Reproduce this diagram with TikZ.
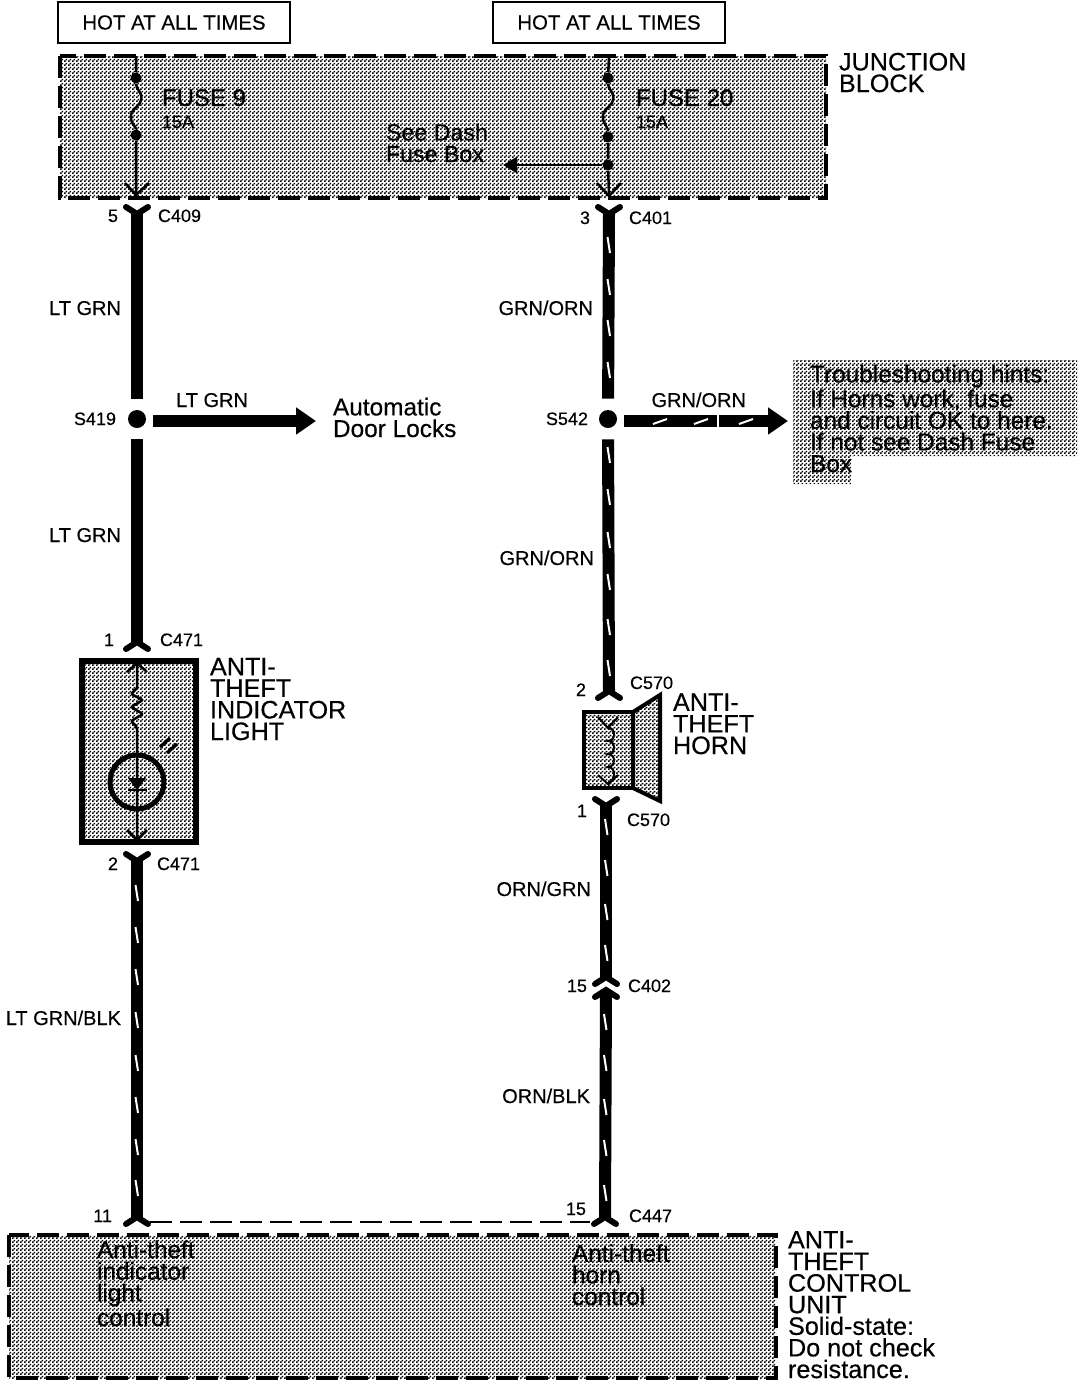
\documentclass[tikz,border=0pt]{standalone}
\usepackage{fontspec}
\setmainfont{Liberation Sans}[FakeBold=0.4]
\usetikzlibrary{arrows.meta, patterns}

% dither of the scanned shading
\pgfdeclarepatternformonly{stipple}{\pgfqpoint{0pt}{0pt}}{\pgfqpoint{2pt}{2pt}}{\pgfqpoint{2pt}{2pt}}{%
  \pgfpathrectangle{\pgfqpoint{0pt}{0pt}}{\pgfqpoint{1pt}{1pt}}%
  \pgfpathrectangle{\pgfqpoint{1pt}{1pt}}{\pgfqpoint{1pt}{1pt}}%
  \pgfusepath{fill}}

\tikzset{
  wirelabel/.style={anchor=base east,inner sep=0pt,outer sep=0pt,font=\fontsize{10}{10}\selectfont},
  pinlabel/.style={anchor=base west,inner sep=0pt,outer sep=0pt,font=\fontsize{9}{9}\selectfont},
  pinnum/.style={pinlabel,anchor=base east},
  biglabel/.style={anchor=base west,inner sep=0pt,outer sep=0pt,align=left,font=\fontsize{12.6}{10.8}\selectfont},
  fuselabel/.style={biglabel,font=\fontsize{12}{10.8}\selectfont},
  notelabel/.style={anchor=base west,inner sep=0pt,outer sep=0pt,align=left,font=\fontsize{12.2}{10.8}\selectfont},
  seelabel/.style={notelabel,font=\fontsize{11.6}{10.8}\selectfont},
  wire/.style={line width=6pt},
  thin wire/.style={line width=1.25pt},
  fork/.style={line width=3pt,line cap=round},
  tick/.style={draw=white,line width=1pt},
  splice/.style={circle,fill=black,inner sep=0pt,minimum size=9pt},
  tap/.style={circle,fill=black,inner sep=0pt,minimum size=5.5pt},
  shade box/.style={pattern=stipple},
  dash box/.style={shade box,line width=2pt,dash pattern=on 11.2pt off 3.8pt},
  hot box/.style={draw,line width=1.3pt,inner sep=0pt,minimum width=116pt,minimum height=20.5pt,font=\fontsize{10.2}{10}\selectfont},
}

\begin{document}
\begin{tikzpicture}[x=0.5pt,y=-0.5pt]
\useasboundingbox (0,0) rectangle (1088,1382);

% shaded boxes first
\path[dash box,draw] (60,56) rectangle (826,198);
\path[dash box,draw] (9,1235) rectangle (776,1378);
\path[shade box] (793,360) -- (1077,360) -- (1077,456) -- (851,456) -- (851,484) -- (793,484) -- cycle;

\node[hot box] (hotleft) at (174,22.5) {HOT AT ALL TIMES};
\node[hot box] (hotright) at (609,22.5) {HOT AT ALL TIMES};

% wire ends
\coordinate (c409) at (137,214);
\coordinate (c401) at (609,214);
\coordinate (c471top) at (137,642);
\coordinate (c471bot) at (137,861);
\coordinate (c570top) at (609,691);
\coordinate (c570bot) at (606,806);
\coordinate (c402up) at (606,977);
\coordinate (c402low) at (606,990);
\coordinate (c447l) at (137,1217);
\coordinate (c447r) at (605,1217);
\node[splice] (s419) at (137,419) {};
\node[splice] (s542) at (608,419) {};
\coordinate (doorlocks) at (316,421);
\coordinate (hints) at (788,421);

\foreach \c in {c409,c401,c471bot,c570bot}
  \draw[fork] (\c)+(-11,-7) -- (\c) -- +(11,-7);
\foreach \c in {c471top,c570top,c402up,c402low,c447l,c447r}
  \draw[fork] (\c)+(-11,7) -- (\c) -- +(11,7);

\draw[wire,shorten >=5.5pt] (c409) -- (s419);
\draw[wire,shorten <=5.5pt] (s419) -- (c471top);
\draw[wire,shorten >=5.5pt] (c401) -- (s542);
\draw[wire,shorten <=5.5pt] (s542) -- (c570top);
\draw[wire] (c471bot) -- (c447l);
\draw[wire] (c570bot) -- (c402up);
\draw[wire] (c402low) -- (c447r);
\draw[wire,shorten <=8pt,-{Triangle[length=10pt,width=13pt]}] (s419.center) ++(0,2) -- (doorlocks);
\draw[wire,shorten <=8pt,-{Triangle[length=10pt,width=13pt]}] (s542.center) ++(0,2) -- (hints);
\draw[line width=1.2pt,dash pattern=on 11pt off 4pt] (150,1222) -- (590,1222);

% tracer on the wires
\foreach \y in {245,287,328,370,455,497,540,582,627,668}
  \draw[tick] (607.5,\y-8) -- (610,\y+8);
\foreach \y in {827,868,912,953}
  \draw[tick] (605,\y-8) -- (607.5,\y+8);
\foreach \y in {1022,1063,1107,1148,1193}
  \draw[tick] (604,\y-8) -- (606.5,\y+8);
\foreach \y in {893,935,977,1020,1063,1105,1147,1188}
  \draw[tick] (135.5,\y-8) -- (138,\y+8);
\foreach \x in {660,701,746}
  \draw[tick] (\x-7,424) -- (\x+7,419);
\draw[tick] (718,415) -- (718,427);

% fuses
\node[tap] (f9a) at (136,78) {};
\node[tap] (f9b) at (136,135) {};
\node[tap] (f20a) at (608,78) {};
\node[tap] (f20b) at (608,137) {};
\node[tap] (f20c) at (608,165) {};
\coordinate (jbtopl) at (136,56);
\coordinate (jbbotl) at (136,195);
\coordinate (jbtopr) at (609,56);
\coordinate (jbbotr) at (609,196);
\coordinate (dashbox) at (503,165);
\draw[thin wire] (jbtopl) -- (f9a) .. controls (136,90) and (143,92) .. (141,100) .. controls (139,108) and (131,108) .. (131,117) .. controls (131,125) and (136,126) .. (f9b) -- (jbbotl);
\draw[thin wire] (jbtopr) -- (f20a) .. controls (608,90) and (615,92) .. (613,100) .. controls (611,108) and (603,108) .. (603,117) .. controls (603,125) and (608,126) .. (f20b) -- (f20c) -- (jbbotr);
\draw[thin wire] (125,183) -- (jbbotl) -- (149,183);
\draw[thin wire] (597,183) -- (jbbotr) -- (621,183);
\draw[thin wire,-{Triangle[length=7pt,width=8pt]}] (f20c) -- (dashbox);

% indicator light
\draw[shade box,draw,line width=2.6pt] (82,661) rectangle (196,842);
\node[circle,draw,line width=2.5pt,inner sep=0pt,minimum size=27pt] (bulb) at (137,782) {};
\coordinate (lighttop) at (137,663);
\coordinate (lightbot) at (137,840);
\draw[thin wire] (lighttop) -- (137,688) [rounded corners=1pt] -- (131,694) -- (143,700) -- (131,707) -- (143,714) -- (131,721) -- (137,727) [sharp corners] -- (lightbot);
\draw[thin wire] (127,672) -- (lighttop) -- (147,672);
\draw[thin wire] (127,830) -- (lightbot) -- (147,830);
\fill (128,778) -- (146,778) -- (137,790) -- cycle;
\draw[thin wire] (128,790) -- (147,790);
\draw[line width=1.6pt] (160,747) -- (170,738);
\draw[line width=1.6pt] (167,753) -- (177,744);

% horn
\draw[shade box,draw,line width=2pt] (633,712) -- (660,695) -- (660,801) -- (633,788) -- cycle;
\draw[shade box,draw,line width=2.4pt] (584,712) rectangle (633,788);
\coordinate (horntop) at (608,728);
\coordinate (hornbot) at (608,784);
\draw[line width=1pt] (horntop) .. controls (616,728) and (616,741) .. (608,741) .. controls (616,741) and (616,754) .. (608,754) .. controls (616,754) and (616,767) .. (608,767) .. controls (616,767) and (616,780) .. (hornbot);
\draw[line width=1pt] (598,717) -- (horntop) -- (618,717);
\draw[line width=1pt] (598,775) -- (hornbot) -- (618,775);

% wire colours
\node[wirelabel] (wl1) at (121,315) {LT GRN};
\node[wirelabel] (wl2) at (121,542) {LT GRN};
\node[wirelabel] (wl3) at (248,407) {LT GRN};
\node[wirelabel] (wl4) at (121,1025) {LT GRN/BLK};
\node[wirelabel] (wr1) at (593,315) {GRN/ORN};
\node[wirelabel] (wr2) at (746,407) {GRN/ORN};
\node[wirelabel] (wr3) at (594,565) {GRN/ORN};
\node[wirelabel] (wr4) at (591,896) {ORN/GRN};
\node[wirelabel] (wr5) at (590,1103) {ORN/BLK};

% pins
\node[pinnum] (n5) at (118,222) {5};
\node[pinlabel] (nc409) at (158,222) {C409};
\node[pinnum] (n3) at (590,224) {3};
\node[pinlabel] (nc401) at (629,224) {C401};
\node[pinnum] (ns419) at (116,425) {S419};
\node[pinnum] (ns542) at (588,425) {S542};
\node[pinnum] (n1l) at (114,646) {1};
\node[pinlabel] (nc471a) at (160,646) {C471};
\node[pinnum] (n2l) at (118,870) {2};
\node[pinlabel] (nc471b) at (157,870) {C471};
\node[pinnum] (n2r) at (586,696) {2};
\node[pinlabel] (nc570a) at (630,689) {C570};
\node[pinnum] (n1r) at (587,817) {1};
\node[pinlabel] (nc570b) at (627,826) {C570};
\node[pinnum] (n15a) at (587,992) {15};
\node[pinlabel] (nc402) at (628,992) {C402};
\node[pinnum] (n11) at (112,1222) {11};
\node[pinnum] (n15b) at (586,1215) {15};
\node[pinlabel] (nc447) at (629,1222) {C447};

% captions
\node[biglabel] (junction) at (839,92) {JUNCTION\\BLOCK};
\node[fuselabel] (fuse9) at (162,106) {FUSE 9};
\node[fuselabel] (fuse20) at (636,106) {FUSE 20};
\node[pinlabel] (amp9) at (162,128) {15A};
\node[pinlabel] (amp20) at (636,128) {15A};
\node[seelabel] (seedash) at (386,162) {See Dash\\Fuse Box};
\node[notelabel] (doors) at (333,437) {Automatic\\Door Locks};
\node[notelabel] (hinttext) at (810,472) {Troubleshooting hints:\\If Horns work, fuse\\and circuit OK to here.\\If not see Dash Fuse\\Box};
\node[biglabel] (lightname) at (210,740) {ANTI-\\THEFT\\INDICATOR\\LIGHT};
\node[biglabel] (hornname) at (673,754) {ANTI-\\THEFT\\HORN};
\node[notelabel] (ctrl1) at (97,1326) {Anti-theft\\indicator\\light\\control};
\node[notelabel] (ctrl2) at (572,1305) {Anti-theft\\horn\\control};
\node[biglabel] (unitname) at (788,1378) {ANTI-\\THEFT\\CONTROL\\UNIT\\Solid-state:\\Do not check\\resistance.};
\end{tikzpicture}
\end{document}
